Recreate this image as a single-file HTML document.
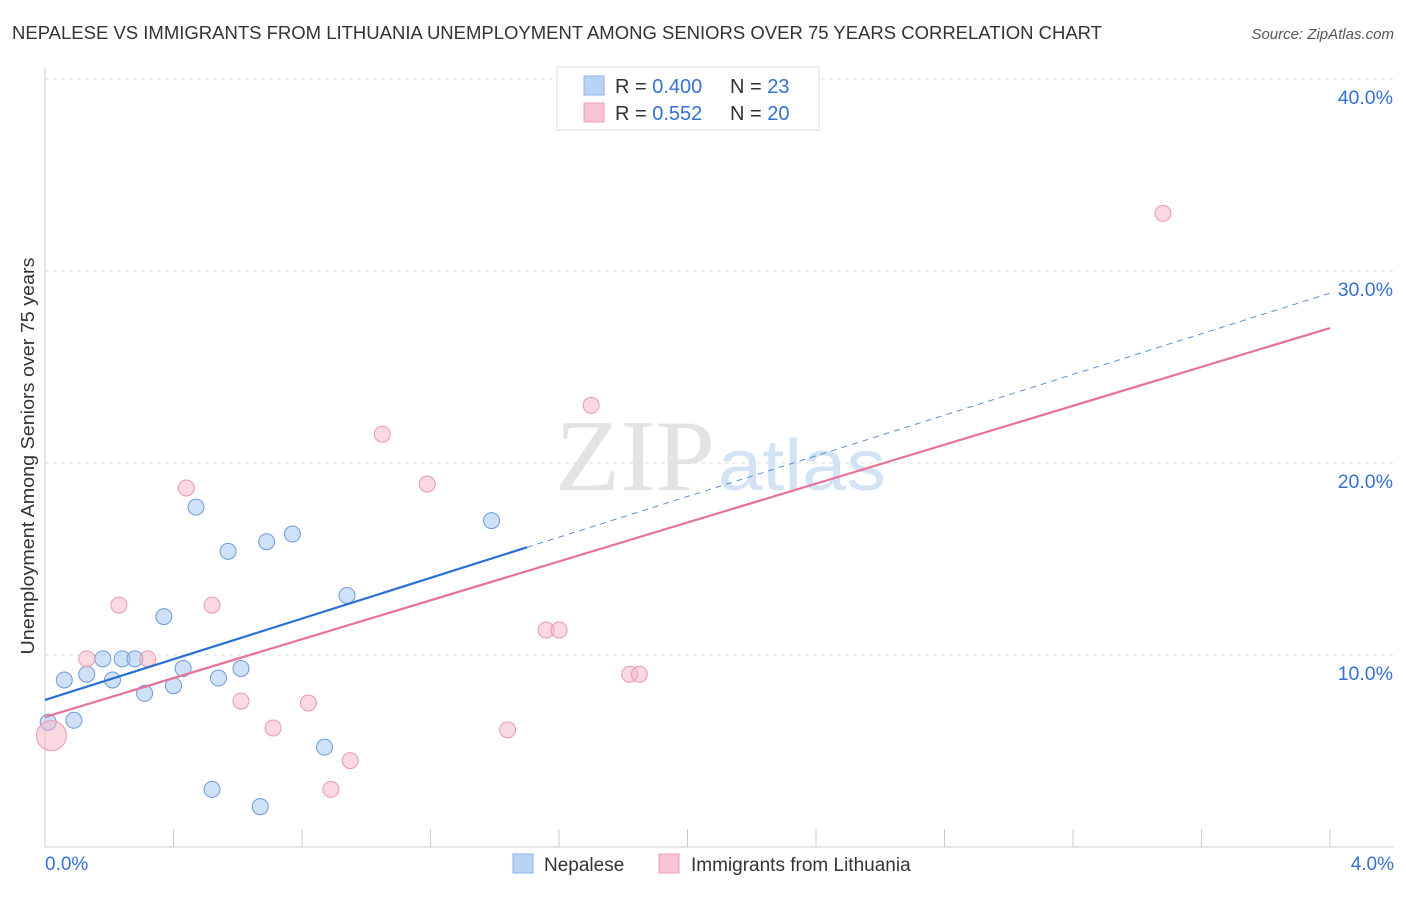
<!DOCTYPE html>
<html><head><meta charset="utf-8"><style>
body{margin:0;background:#fff;font-family:"Liberation Sans",sans-serif;}
svg text{font-family:"Liberation Sans",sans-serif;}
</style></head><body>
<svg id="chart" width="1406" height="892">
<text x="12" y="39" font-size="18.5" fill="#333" textLength="1090" lengthAdjust="spacingAndGlyphs">NEPALESE VS IMMIGRANTS FROM LITHUANIA UNEMPLOYMENT AMONG SENIORS OVER 75 YEARS CORRELATION CHART</text>
<text x="1394" y="39" font-size="15" fill="#555" font-style="italic" text-anchor="end">Source: ZipAtlas.com</text>
<text x="555" y="490" font-size="102" fill="#e3e3e3" style="font-family:'Liberation Serif',serif" textLength="160" lengthAdjust="spacingAndGlyphs">ZIP</text>
<text x="718" y="490" font-size="72" fill="#d3e2f5" textLength="168" lengthAdjust="spacingAndGlyphs">atlas</text>
<g id="grid"></g>
<g id="marks"></g>
<text transform="translate(34,456) rotate(-90)" font-size="18" fill="#333" text-anchor="middle" textLength="397" lengthAdjust="spacingAndGlyphs">Unemployment Among Seniors over 75 years</text>
<g>
<rect x="557" y="67" width="262" height="63" fill="#fff" stroke="#ddd"/>
<rect x="584" y="76" width="20" height="19" fill="#b9d3f5" stroke="#8fb4e6"/>
<rect x="584" y="103" width="20" height="19" fill="#f9c4d4" stroke="#f0a0b8"/>
<text x="615" y="93" font-size="20" fill="#333">R = <tspan fill="#3571d0">0.400</tspan></text>
<text x="730" y="93" font-size="20" fill="#333">N = <tspan fill="#3571d0"> 23</tspan></text>
<text x="615" y="120" font-size="20" fill="#333">R = <tspan fill="#3571d0"> 0.552</tspan></text>
<text x="730" y="120" font-size="20" fill="#333">N = <tspan fill="#3571d0">20</tspan></text>
</g>
<g>
<rect x="513" y="854" width="20" height="19" fill="#b9d3f5" stroke="#8fb4e6"/>
<text x="544" y="871" font-size="19" fill="#333">Nepalese</text>
<rect x="659" y="854" width="20" height="19" fill="#f9c4d4" stroke="#f0a0b8"/>
<text x="691" y="871" font-size="19" fill="#333">Immigrants from Lithuania</text>
</g>
</svg>
<script>
const nepX=[0.01,0.06,0.09,0.13,0.18,0.21,0.24,0.28,0.31,0.37,0.4,0.43,0.47,0.52,0.54,0.57,0.61,0.67,0.69,0.77,0.87,0.94,1.39];
const nepY=[6.5,8.7,6.6,9.0,9.8,8.7,9.8,9.8,8.0,12.0,8.4,9.3,17.7,3.0,8.8,15.4,9.3,2.1,15.9,16.3,5.2,13.1,17.0];
const litX=[0.02,0.13,0.23,0.32,0.44,0.52,0.61,0.71,0.82,0.89,0.95,1.05,1.19,1.44,1.56,1.6,1.7,1.82,1.85,3.48];
const litY=[5.8,9.8,12.6,9.8,18.7,12.6,7.6,6.2,7.5,3.0,4.5,21.5,18.9,6.1,11.3,11.3,23.0,9.0,9.0,33.0];
const nepLine=[7.66,28.85], litLine=[6.77,27.03], nepSolidEnd=1.5;
const xTicks=[0,0.4,0.8,1.2,1.6,2.0,2.4,2.8,3.2,3.6,4.0];
const yTicks=[10,20,30,40];
const yTickLabels=["10.0%","20.0%","30.0%","40.0%"];
const xLabels=["0.0%","4.0%"];
const NS="http://www.w3.org/2000/svg";
const X=v=>45+v/4*1285, Y=v=>847-v*19.2;
function mk(p,t,a){const e=document.createElementNS(NS,t);for(const k in a)e.setAttribute(k,a[k]);p.appendChild(e);return e;}
const grid=document.getElementById('grid'), marks=document.getElementById('marks');
yTicks.forEach((t,i)=>{
 const l=mk(grid,'line',{x1:45,x2:1394,y1:Y(t),y2:Y(t),stroke:'#ddd','stroke-dasharray':'4,4'});
 
 
 const tx=mk(grid,'text',{x:1393,y:Y(t)+25,'font-size':19.5,fill:'#3571d0','text-anchor':'end'});tx.textContent=yTickLabels[i];
 
 
});
mk(grid,'line',{x1:45,x2:45,y1:68,y2:847,stroke:'#ccc'});
mk(grid,'line',{x1:45,x2:1394,y1:847,y2:847,stroke:'#ccc'});
xTicks.forEach(t=>{const l=mk(grid,'line',{x1:X(t),x2:X(t),y1:829,y2:847,stroke:'#ccc'});
 
 });
[[xLabels[0],45,'start'],[xLabels[1],1394,'end']].forEach(([s,x,a])=>{const t=mk(grid,'text',{x:x,y:870,'font-size':19,fill:'#3571d0','text-anchor':a});t.textContent=s;
 
 });
nepX.forEach((x,i)=>{const c=mk(marks,'circle',{cx:X(x),cy:Y(nepY[i]),r:8,fill:'rgba(160,195,240,0.5)',stroke:'#6f9ad8','stroke-width':1});
 
 });
litX.forEach((x,i)=>{const c=mk(marks,'circle',{cx:X(x),cy:Y(litY[i]),r:i===0?15:8,fill:'rgba(248,180,200,0.5)',stroke:'#ec97b0','stroke-width':1});
 
 });
const ny=x=>nepLine[0]+(nepLine[1]-nepLine[0])*x/4, ly=x=>litLine[0]+(litLine[1]-litLine[0])*x/4;
let a=mk(marks,'line',{x1:X(0),y1:Y(ly(0)),x2:X(4),y2:Y(ly(4)),stroke:'#e8719a','stroke-width':2.2});


a=mk(marks,'line',{x1:X(nepSolidEnd),y1:Y(ny(nepSolidEnd)),x2:X(4),y2:Y(ny(4)),stroke:'#5b8fd6','stroke-width':1,'stroke-dasharray':'6,5'});


a=mk(marks,'line',{x1:X(0),y1:Y(ny(0)),x2:X(nepSolidEnd),y2:Y(ny(nepSolidEnd)),stroke:'#2a6fd4','stroke-width':2.2});


</script>
</body></html>
